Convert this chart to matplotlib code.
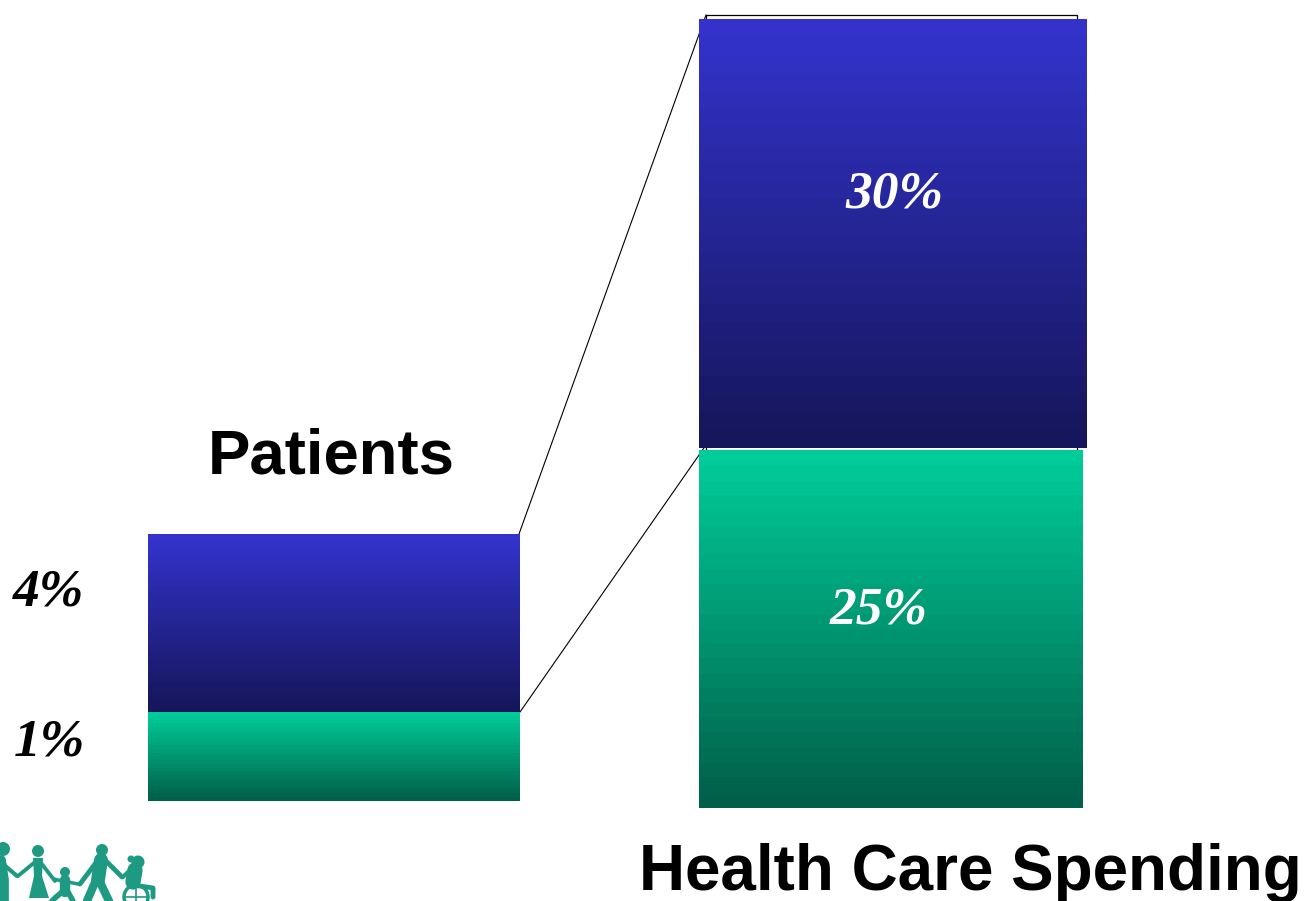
import numpy as np
import matplotlib
matplotlib.use("Agg")
import matplotlib.pyplot as plt
from matplotlib.colors import LinearSegmentedColormap
from matplotlib.patches import Rectangle, Circle, Polygon

# ---- data ----
patient_labels = ["4%", "1%"]
patient_bar_heights = [178, 89]      # heights as drawn in the picture
spending_labels = ["30%", "25%"]
spending_values = [30, 25]
titles = ["Patients", "Health Care Spending"]

# ---- styles / layout ----
BLUE = ("#3333CC", "#16165C")
GREEN = ("#00CC99", "#006049")
TEAL = "#1F9A82"
SPEND_SCALE = 14.3
W, H = 1304, 901

fig = plt.figure(figsize=(W / 100, H / 100), dpi=100, facecolor="white")
ax = fig.add_axes([0, 0, 1, 1])
ax.set_xlim(0, W)
ax.set_ylim(H, 0)
ax.axis("off")


def grad_bar(x0, x1, y0, y1, cols, z=3):
    cmap = LinearSegmentedColormap.from_list("g", cols, N=24)
    g = np.linspace(0, 1, 256).reshape(-1, 1)
    ax.imshow(g, cmap=cmap, extent=(x0, x1, y1, y0), aspect="auto", zorder=z,
              interpolation="nearest")


# Patients stack
px0, px1 = 148, 520
p_top = 534
p_mid = p_top + patient_bar_heights[0]
p_bot = p_mid + patient_bar_heights[1]
grad_bar(px0, px1, p_top, p_mid, BLUE)
grad_bar(px0, px1, p_mid, p_bot, GREEN)

# Spending stack
s_top = 19.5
s_mid = s_top + spending_values[0] * SPEND_SCALE
s_mid2 = s_mid + 2.5
s_bot = s_mid2 + spending_values[1] * SPEND_SCALE
grad_bar(699, 1087, s_top, s_mid, BLUE)
grad_bar(699, 1083, s_mid2, s_bot, GREEN)

# Back frame and connector lines
ax.add_patch(Rectangle((706, 15), 371, 440, fill=False, ec="black", lw=0.9, zorder=1))
ax.plot([px1 - 1, 706], [p_top, 15], color="black", lw=0.8, zorder=2)
ax.plot([px1, 706], [p_mid, 445], color="black", lw=0.8, zorder=2)

# Text
sans = "Liberation Sans"
serif = "Liberation Serif"
ax.text(331, 457, titles[0], family=sans, weight="bold", fontsize=45.7,
        ha="center", va="center", color="black", zorder=5)
ax.text(970, 873, titles[1], family=sans, weight="bold", fontsize=45.9,
        ha="center", va="center", color="black", zorder=5)
for lab, (x, y) in zip(patient_labels, [(49, 592), (49, 743)]):
    ax.text(x, y, lab, family=serif, weight="bold", style="italic", fontsize=38.5,
            ha="center", va="center", color="black", zorder=5)
for lab, (x, y) in zip(spending_labels, [(894.5, 194), (878.5, 610)]):
    ax.text(x, y, lab, family=serif, weight="bold", style="italic", fontsize=38.5,
            ha="center", va="center", color="white", zorder=5)


# Logo: family silhouette, cut off by the bottom edge
def limb(xs, ys, lw=4.5):
    ax.plot(xs, ys, color=TEAL, lw=lw, solid_capstyle="round",
            solid_joinstyle="round", zorder=4)


def head(x, y, r):
    ax.add_patch(Circle((x, y), r, fc=TEAL, ec="none", zorder=4))


# left figure
head(3, 849, 7)
limb([1, 4, 4], [860, 880, 901], 7)
limb([3, 17], [864, 876], 3)
# woman
head(38, 851, 6)
ax.add_patch(Polygon([[33, 858], [43, 858], [42, 876], [34, 876]], fc=TEAL, ec="none", zorder=4))
ax.add_patch(Polygon([[34, 876], [42, 876], [49, 898], [29, 898]], fc=TEAL, ec="none", zorder=4))
limb([35, 18], [862, 876], 2.8)
limb([41, 55], [863, 881], 2.8)
# child
head(65, 872, 5)
limb([65, 65], [880, 892], 7.5)
limb([62, 54], [881, 879], 2.5)
limb([68, 78], [882, 884], 2.5)
limb([62, 55, 52], [892, 898, 901], 4)
limb([68, 73], [892, 901], 4)
# man
head(102, 850, 6)
limb([101, 98], [860, 880], 10)
limb([98, 80], [860, 884], 3.5)
limb([105, 122], [860, 877], 3.5)
limb([96, 87], [880, 901], 6)
limb([99, 109], [880, 901], 6)
# wheelchair user
head(138, 862, 6.5)
ax.add_patch(Circle((131, 859), 3.5, fc=TEAL, ec="none", zorder=4))
limb([135, 133], [870, 882], 11)
limb([130, 123], [870, 877], 3)
limb([133, 153, 153], [885, 888, 897], 3.5)
ax.add_patch(Circle((136, 897), 12, fc="none", ec=TEAL, lw=2.5, zorder=4))
limb([136, 136], [885, 901], 1.2)
limb([124, 148], [897, 897], 1.2)

fig.savefig("out.png", dpi=100, facecolor="white")
